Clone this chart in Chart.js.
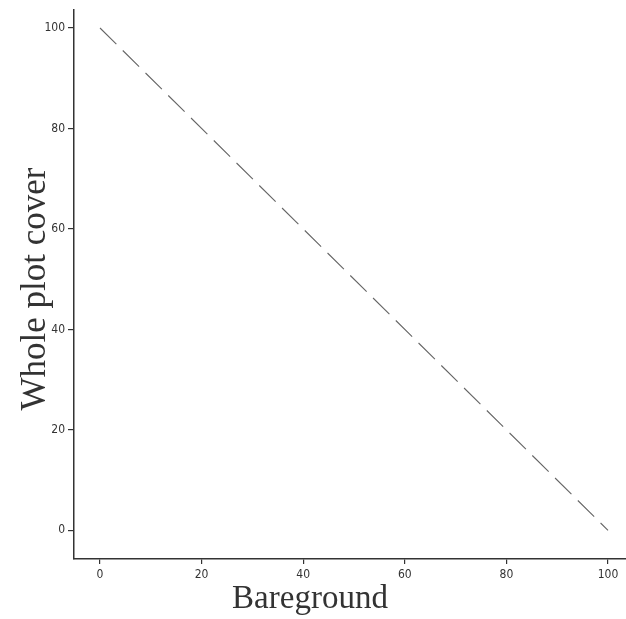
<!DOCTYPE html>
<html>
<head>
<meta charset="utf-8">
<script src="https://cdn.jsdelivr.net/npm/chart.js@4/dist/chart.umd.min.js"></script>
<style>
  html, body { margin: 0; padding: 0; background: #fff; }
  #wrap { width: 626px; height: 619px; }
</style>
</head>
<body>
<div id="wrap"><canvas id="c" width="626" height="619"></canvas></div>
<script>
// ---- data ----
const bareground = [0, 100];
const wholePlotCover = [100, 0];
const xTickValues = [0, 20, 40, 60, 80, 100];
const yTickValues = [0, 20, 40, 60, 80, 100];
const xTitle = 'Bareground';
const yTitle = 'Whole plot cover';

const points = bareground.map((x, i) => ({ x: x, y: wholePlotCover[i] }));
const tickFont = { family: '"DejaVu Sans Condensed", "Liberation Sans Narrow", "Liberation Sans", sans-serif', size: 12 };

const titlesPlugin = {
  id: 'axisTitles',
  afterDraw(chart) {
    const ctx = chart.ctx;
    ctx.save();
    ctx.fillStyle = '#333';
    ctx.font = '33px "Liberation Serif"';
    ctx.textAlign = 'center';
    ctx.textBaseline = 'alphabetic';
    ctx.fillText(xTitle, 310, 608);
    ctx.font = '35px "Liberation Serif"';
    ctx.translate(45, 289);
    ctx.rotate(-Math.PI / 2);
    ctx.fillText(yTitle, 0, 0);
    ctx.restore();
  }
};

new Chart(document.getElementById('c'), {
  type: 'scatter',
  data: {
    datasets: [{
      data: points,
      showLine: true,
      borderColor: '#666',
      borderWidth: 1.1,
      borderDash: [23, 9],
      pointRadius: 0,
      fill: false
    }]
  },
  options: {
    responsive: false,
    devicePixelRatio: 1,
    animation: false,
    layout: { padding: { top: 3, right: 0, left: 0, bottom: 0 } },
    plugins: { legend: { display: false }, tooltip: { enabled: false } },
    scales: {
      x: {
        type: 'linear',
        min: -5.12,
        max: 103.54,
        afterBuildTicks: s => { s.ticks = xTickValues.map(v => ({ value: v })); },
        afterFit: s => { s.height = 60; },
        border: { display: true, color: '#333', width: 1.5 },
        grid: { drawOnChartArea: false, drawTicks: true, tickLength: 5, color: '#333', lineWidth: 1.2 },
        ticks: { color: '#333', padding: 4, maxRotation: 0, autoSkip: false, font: tickFont }
      },
      y: {
        type: 'linear',
        min: -5.7,
        max: 103.54,
        afterBuildTicks: s => { s.ticks = yTickValues.map(v => ({ value: v })); },
        afterFit: s => { s.width = 74; },
        border: { display: true, color: '#333', width: 1.5 },
        grid: { drawOnChartArea: false, drawTicks: true, tickLength: 6, color: '#333', lineWidth: 1.2 },
        ticks: { color: '#333', padding: 3, autoSkip: false, font: tickFont }
      }
    }
  },
  plugins: [titlesPlugin]
});
</script>
</body>
</html>
